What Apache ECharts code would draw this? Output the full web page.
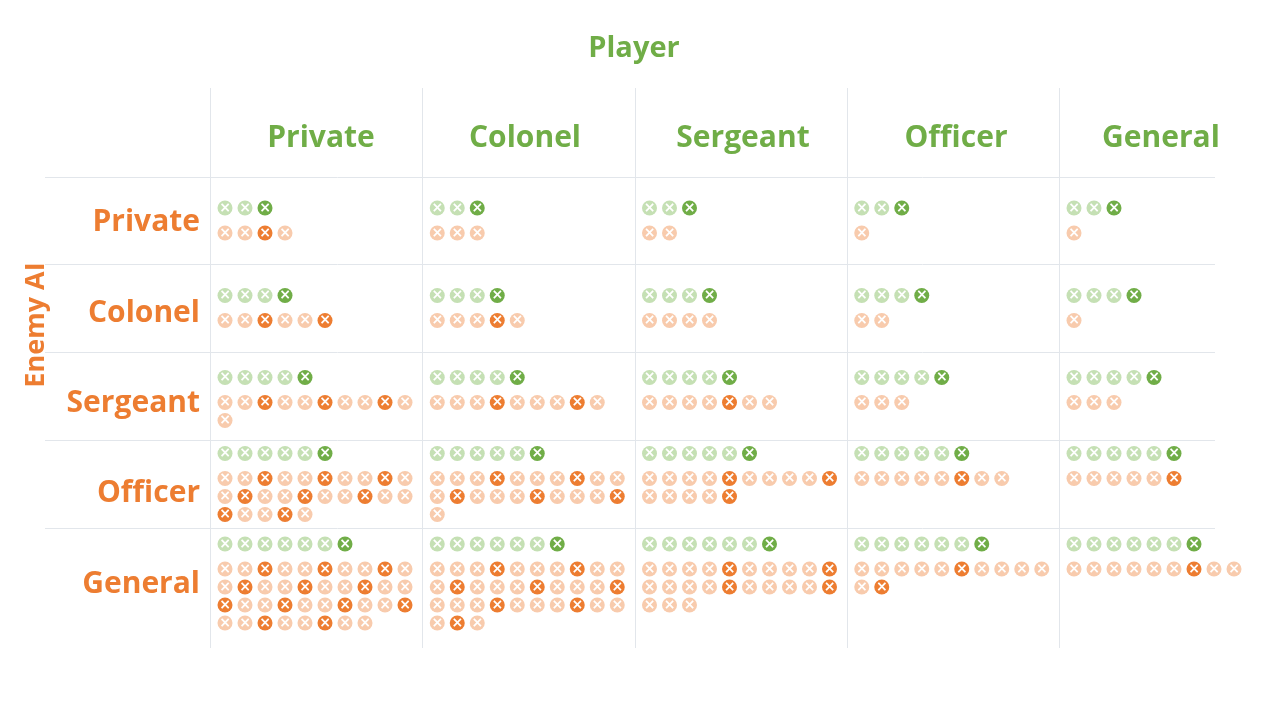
<!DOCTYPE html>
<html>
<head>
<meta charset="utf-8">
<script src="https://cdn.jsdelivr.net/npm/echarts@6/dist/echarts.min.js"></script>
<style>
html,body{margin:0;padding:0;background:#fff;}
#chart{width:1280px;height:720px;}
</style>
</head>
<body>
<div id="chart"></div>
<script>
// ---------- DATA ----------
const playerRanks = ['Private', 'Colonel', 'Sergeant', 'Officer', 'General'];
const enemyRanks  = ['Private', 'Colonel', 'Sergeant', 'Officer', 'General'];

// green markers (player) per cell: rows = enemy AI, cols = player
const greenPrivate  = [3, 3, 3, 3, 3];
const greenColonel  = [4, 4, 4, 4, 4];
const greenSergeant = [5, 5, 5, 5, 5];
const greenOfficer  = [6, 6, 6, 6, 6];
const greenGeneral  = [7, 7, 7, 7, 7];

// orange markers (enemy AI) per cell: '0' = light, '1' = dark
const orangePrivate  = ['0010', '000', '00', '0', '0'];
const orangeColonel  = ['001001', '00010', '0000', '00', '0'];
const orangeSergeant = ['00100100100', '000100010', '0000100', '000', '000'];
const orangeOfficer  = ['0010010010' + '0100100100' + '10010',
                        '0001000100' + '0100010001' + '0',
                        '0000100001' + '00001',
                        '00000100',
                        '000001'];
const orangeGeneral  = ['0010010010' + '0100100100' + '1001001001' + '00100100',
                        '0001000100' + '0100010001' + '0001000100' + '010',
                        '0000100001' + '0000100001' + '000',
                        '0000010000' + '01',
                        '000000100'];

const greenCounts = [greenPrivate, greenColonel, greenSergeant, greenOfficer, greenGeneral];
const orangeSeqs  = [orangePrivate, orangeColonel, orangeSergeant, orangeOfficer, orangeGeneral];

// ---------- LAYOUT ----------
const GREEN = '#70AD47', GREEN_L = '#C5E0B4';
const ORANGE = '#ED7D31', ORANGE_L = '#F8CBAD';
const FONT = '"Open Sans"';
const colW = 212.25, padX = 15, stepX = 20, perLine = 10, gapGO = 25, lineStep = 18;
const gridLeft = 210, gridTop = 177;
const rowEdges = [0, 87, 175, 263, 351, 462];
const rowNudge = [0, 0, 3, 0, 0];
const xMax = colW * 5, yMax = rowEdges[5];

const lightG = [], darkG = [], lightO = [], darkO = [];
for (let r = 0; r < 5; r++) {
  let lines = 1;
  orangeSeqs[r].forEach(s => { lines = Math.max(lines, Math.ceil(s.length / perLine)); });
  const contentH = gapGO + lineStep * (lines - 1);
  const center = (rowEdges[r] + rowEdges[r + 1]) / 2 + rowNudge[r];
  const gy = center - contentH / 2;
  for (let c = 0; c < 5; c++) {
    const x0 = c * colW + padX;
    const n = greenCounts[r][c];
    for (let k = 0; k < n; k++) {
      (k === n - 1 ? darkG : lightG).push([x0 + stepX * k, gy]);
    }
    const seq = orangeSeqs[r][c];
    for (let k = 0; k < seq.length; k++) {
      const p = [x0 + stepX * (k % perLine), gy + gapGO + lineStep * Math.floor(k / perLine)];
      (seq[k] === '1' ? darkO : lightO).push(p);
    }
  }
}

function mk(name, data, color) {
  return {
    name, type: 'scatter', data, symbol: 'circle', symbolSize: 15,
    itemStyle: { color, opacity: 1 },
    label: { show: true, position: 'inside', formatter: '\u00D7', color: '#fff',
             fontSize: 14, fontWeight: 'bold', fontFamily: 'DejaVu Sans' },
    emphasis: { disabled: true }, silent: true, animation: false
  };
}

// text + table lines
const graphics = [];
graphics.push({ type: 'text', x: 634, y: 49,
  style: { text: 'Player', fill: GREEN, font: `bold 29px ${FONT}`, textAlign: 'center', textVerticalAlign: 'middle' } });
const headerX = [321, 525, 743, 956, 1161];
playerRanks.forEach((t, i) => graphics.push({ type: 'text', x: headerX[i], y: 138,
  style: { text: t, fill: GREEN, font: `bold 30px ${FONT}`, textAlign: 'center', textVerticalAlign: 'middle' } }));
const rowLabelY = [222, 313, 403, 493, 584];
enemyRanks.forEach((t, i) => graphics.push({ type: 'text', x: 200, y: rowLabelY[i],
  style: { text: t, fill: ORANGE, font: `bold 30px ${FONT}`, textAlign: 'right', textVerticalAlign: 'middle' } }));
graphics.push({ type: 'text', x: 36, y: 325, rotation: Math.PI / 2,
  style: { text: 'Enemy AI', fill: ORANGE, font: `bold 27px ${FONT}`, textAlign: 'center', textVerticalAlign: 'middle' } });
for (let i = 0; i < 5; i++) {
  const y = gridTop + rowEdges[i] + 0.5;
  graphics.push({ type: 'line', shape: { x1: 45, y1: y, x2: 1215, y2: y }, style: { stroke: '#e2e6eb', lineWidth: 1 } });
}
for (let i = 0; i < 5; i++) {
  const x = Math.round(gridLeft + colW * i) + 0.5;
  graphics.push({ type: 'line', shape: { x1: x, y1: 88, x2: x, y2: 648 }, style: { stroke: '#e2e6eb', lineWidth: 1 } });
}

const chart = echarts.init(document.getElementById('chart'), null, { renderer: 'canvas' });
chart.setOption({
  animation: false,
  backgroundColor: '#fff',
  grid: { left: gridLeft, top: gridTop, width: xMax, height: yMax, containLabel: false },
  xAxis: { type: 'value', min: 0, max: xMax, show: false },
  yAxis: { type: 'value', min: 0, max: yMax, inverse: true, show: false },
  graphic: graphics,
  series: [
    mk('player', lightG, GREEN_L),
    mk('player win', darkG, GREEN),
    mk('enemy', lightO, ORANGE_L),
    mk('enemy win', darkO, ORANGE)
  ]
});
</script>
</body>
</html>
